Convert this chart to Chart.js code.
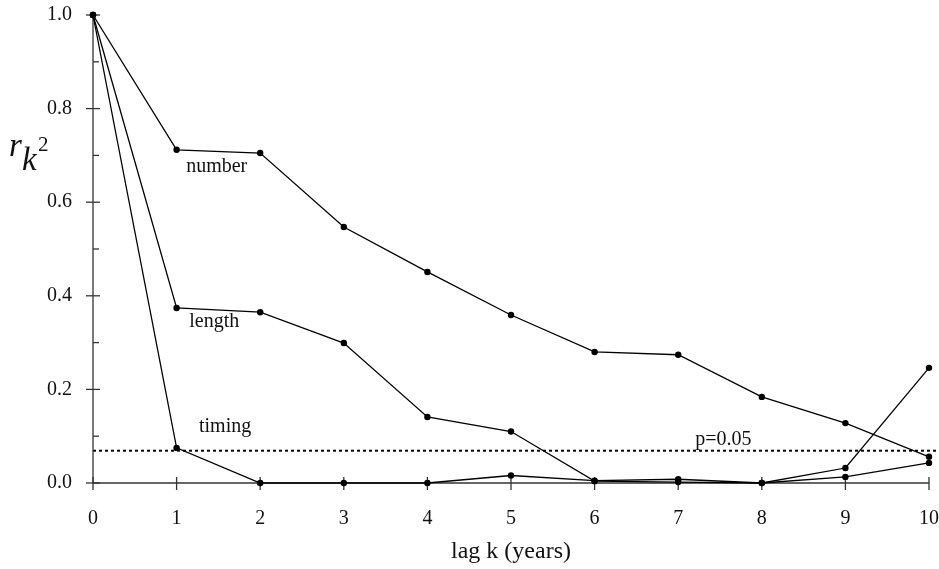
<!DOCTYPE html>
<html><head><meta charset="utf-8">
<script src="https://cdn.jsdelivr.net/npm/chart.js@4"></script>
<style>html,body{margin:0;padding:0;background:#fff}#wrap{width:939px;height:569px;position:relative}</style>
</head><body><div id="wrap"><canvas id="c" width="939" height="569"></canvas></div>
<script>
const lags = [0,1,2,3,4,5,6,7,8,9,10];
const numberVals = [1.0,0.712,0.705,0.547,0.451,0.359,0.280,0.274,0.184,0.128,0.056];
const lengthVals = [1.0,0.374,0.365,0.299,0.141,0.110,0.004,0.002,0.0,0.013,0.043];
const timingVals = [1.0,0.075,0.0,0.0,0.0,0.016,0.005,0.008,0.0,0.032,0.246];
const pLine = 0.069;
const yTickVals = [0,0.2,0.4,0.6,0.8,1.0];
const labels = [
  {text:'number', x:1.48, y:0.675},
  {text:'length', x:1.45, y:0.344},
  {text:'timing', x:1.58, y:0.121},
  {text:'p=0.05', x:7.54, y:0.092}
];
const FONT = '"Liberation Serif", "DejaVu Serif", serif';
const toPts = v => lags.map((x,i)=>({x, y:v[i]}));
const ds = v => ({data:toPts(v), clip:false, borderColor:'#000', borderWidth:1.3, pointRadius:3.2, pointBackgroundColor:'#000', pointBorderWidth:0, fill:false, tension:0});

const deco = {
  id:'deco',
  beforeDatasetsDraw(chart){
    const ctx = chart.ctx, xs = chart.scales.x, ys = chart.scales.y;
    const x0 = xs.getPixelForValue(0), x10 = xs.getPixelForValue(10);
    const y0 = ys.getPixelForValue(0), y1 = ys.getPixelForValue(1);
    ctx.save();
    // dotted p line
    ctx.strokeStyle='#000'; ctx.lineWidth=2; ctx.setLineDash([3,3]);
    const yp = ys.getPixelForValue(pLine);
    ctx.beginPath(); ctx.moveTo(x0, yp); ctx.lineTo(chart.width, yp); ctx.stroke();
    ctx.setLineDash([]);
    // axes
    ctx.strokeStyle='#333'; ctx.lineWidth=1.3;
    ctx.beginPath(); ctx.moveTo(x0, y0); ctx.lineTo(x10, y0); ctx.stroke();
    ctx.beginPath(); ctx.moveTo(x0, y0); ctx.lineTo(x0, y1); ctx.stroke();
    // y ticks
    for (let i=0;i<=10;i++){
      const v=i/10, yy=ys.getPixelForValue(v);
      ctx.beginPath();
      if (i%2===0){ ctx.moveTo(x0-7, yy); ctx.lineTo(x0+7, yy); }
      else { ctx.moveTo(x0, yy); ctx.lineTo(x0+6, yy); }
      ctx.stroke();
    }
    // x ticks
    lags.forEach(l=>{
      const xx=xs.getPixelForValue(l);
      ctx.beginPath(); ctx.moveTo(xx, y0-6); ctx.lineTo(xx, y0+7); ctx.stroke();
    });
    ctx.restore();
  },
  afterDraw(chart){
    const ctx = chart.ctx, xs = chart.scales.x, ys = chart.scales.y;
    ctx.save();
    ctx.fillStyle='#111'; ctx.font='20px '+FONT; ctx.textAlign='center'; ctx.textBaseline='middle';
    labels.forEach(l=>ctx.fillText(l.text, xs.getPixelForValue(l.x), ys.getPixelForValue(l.y)));
    // y title r_k^2
    ctx.textAlign='left'; ctx.textBaseline='alphabetic';
    ctx.font='italic 33px '+FONT; ctx.fillText('r', 9, 156);
    ctx.font='italic 33px '+FONT; ctx.fillText('k', 22, 170);
    ctx.font='21px '+FONT; ctx.fillText('2', 38, 151);
    ctx.restore();
  }
};

new Chart(document.getElementById('c'), {
  type:'line',
  data:{datasets:[ds(numberVals), ds(lengthVals), ds(timingVals)]},
  options:{
    responsive:false, animation:false,
    layout:{padding:{left:0,right:0,top:15,bottom:0}},
    plugins:{legend:{display:false}, tooltip:{enabled:false}},
    scales:{
      x:{type:'linear', min:0, max:10,
        afterFit(s){ s.height = 86; },
        grid:{display:true, drawOnChartArea:false, drawTicks:true, tickLength:24, color:'transparent'},
        border:{display:false},
        ticks:{stepSize:1, padding:0, color:'#111', font:{family:FONT, size:20}},
        title:{display:true, text:'lag k (years)', color:'#111', font:{family:FONT, size:24}, padding:{top:0, bottom:3}}
      },
      y:{min:0, max:1,
        afterFit(s){ s.width = 93; },
        afterBuildTicks(s){ s.ticks = yTickVals.map(v=>({value:v})); },
        grid:{display:true, drawOnChartArea:false, drawTicks:true, tickLength:20, color:'transparent'},
        border:{display:false},
        ticks:{padding:1, color:'#111', font:{family:FONT, size:20}, callback:v=>v.toFixed(1)}
      }
    }
  },
  plugins:[deco]
});
</script></body></html>
